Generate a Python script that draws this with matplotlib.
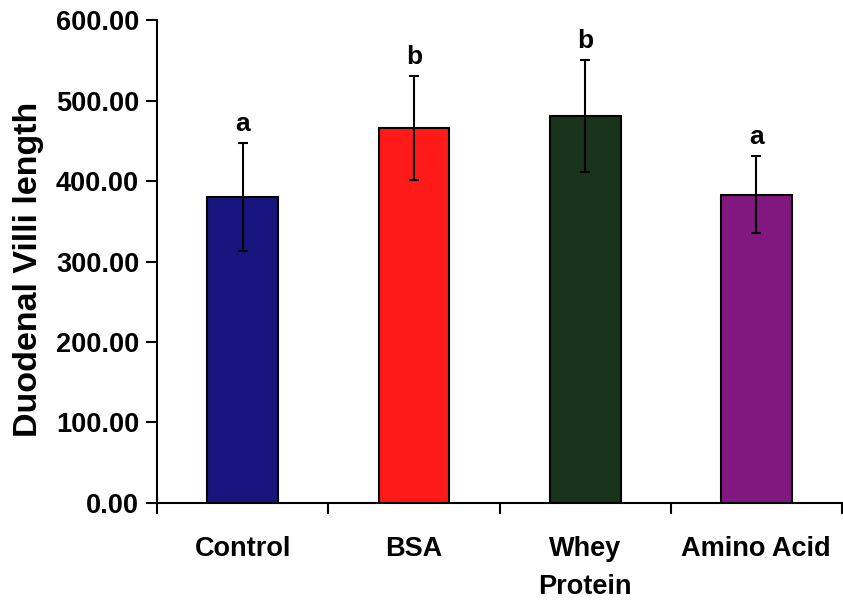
import matplotlib
matplotlib.use("Agg")
import matplotlib.pyplot as plt
import numpy as np

categories = ["Control", "BSA", "Whey\nProtein", "Amino Acid"]
means = [380, 466, 481, 383]
errors = [67, 65, 70, 48]
letters = ["a", "b", "b", "a"]
colors = ["#16167E", "#FF1A1A", "#18341A", "#801880"]
yticks = [0, 100, 200, 300, 400, 500, 600]

plt.rcParams['font.family'] = ['Liberation Sans', 'DejaVu Sans']
plt.rcParams['font.weight'] = 'bold'

fig = plt.figure(figsize=(8.43, 6.0), dpi=100)
ax = fig.add_axes([0.1866, 0.162, 0.812, 0.804])

x = np.arange(len(categories))
ax.bar(x, means, width=0.414, color=colors, edgecolor='black', linewidth=1.5, zorder=2)
ax.errorbar(x, means, yerr=errors, fmt='none', ecolor='black', elinewidth=1.5,
            capsize=3.5, capthick=1.5, zorder=3)
for xi, m, e, l in zip(x, means, errors, letters):
    ax.annotate(l, (xi, m + e), xytext=(0, 5), textcoords='offset points',
                ha='center', va='bottom', fontsize=19, fontweight='bold')

ax.set_xlim(-0.5, len(categories) - 0.5)
ax.set_ylim(0, 600)
ax.set_yticks(yticks)
ax.set_yticklabels([f"{v:.2f}" for v in yticks], fontsize=19.5, fontweight='bold')
ax.tick_params(axis='y', direction='out', length=8, width=1.5, pad=5)

ax.set_xticks(x)
ax.set_xticklabels(categories, fontsize=19.5, fontweight='bold', va='top', linespacing=1.6)
ax.tick_params(axis='x', which='major', length=0, pad=24)
ax.set_xticks(np.arange(-0.5, len(categories)), minor=True)
ax.tick_params(axis='x', which='minor', direction='out', length=8, width=1.5)

ax.set_ylabel("Duodenal Villi length", fontsize=24.5, fontweight='bold')
ax.yaxis.set_label_coords(-0.1655, 0.483)

for s in ['top', 'right']:
    ax.spines[s].set_visible(False)
for s in ['left', 'bottom']:
    ax.spines[s].set_linewidth(1.5)
    ax.spines[s].set_color('black')

fig.savefig("out.png", dpi=100)
